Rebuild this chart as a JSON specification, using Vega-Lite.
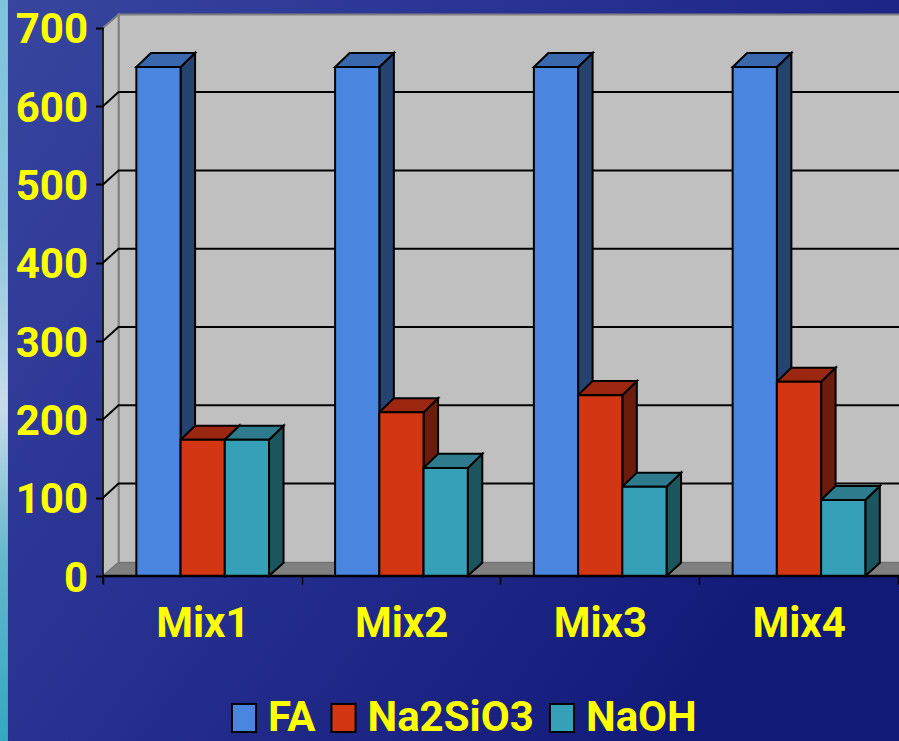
{
  "$schema": "https://vega.github.io/schema/vega-lite/v6.json",
  "width": 899,
  "height": 741,
  "padding": 0,
  "autosize": "none",
  "view": {"stroke": null},
  "config": {"font": "Roboto"},
  "data": {"values": [
    {"mix": "Mix1", "series": "FA", "value": 650},
    {"mix": "Mix1", "series": "Na2SiO3", "value": 174},
    {"mix": "Mix1", "series": "NaOH", "value": 174},
    {"mix": "Mix2", "series": "FA", "value": 650},
    {"mix": "Mix2", "series": "Na2SiO3", "value": 209},
    {"mix": "Mix2", "series": "NaOH", "value": 138},
    {"mix": "Mix3", "series": "FA", "value": 650},
    {"mix": "Mix3", "series": "Na2SiO3", "value": 231},
    {"mix": "Mix3", "series": "NaOH", "value": 114},
    {"mix": "Mix4", "series": "FA", "value": 650},
    {"mix": "Mix4", "series": "Na2SiO3", "value": 248},
    {"mix": "Mix4", "series": "NaOH", "value": 97}
  ]},
  "transform": [
    {"calculate": "indexof(['Mix1','Mix2','Mix3','Mix4'],datum.mix)+0.168+0.2225*indexof(['FA','Na2SiO3','NaOH'],datum.series)", "as": "left"},
    {"calculate": "datum.left+0.2225", "as": "right"},
    {"calculate": "[0,1]", "as": "k"},
    {"flatten": ["k"]},
    {"calculate": "datum.right+datum.k*0.073", "as": "sideX"},
    {"calculate": "datum.left+datum.k*0.073", "as": "topL"},
    {"calculate": "datum.right+datum.k*0.073", "as": "topR"},
    {"calculate": "datum.value+datum.k*18", "as": "upper"},
    {"calculate": "datum.k*17", "as": "lower"}
  ],
  "encoding": {},
  "resolve": {"scale": {"fill": "independent"}},
  "layer": [
    {
      "data": {"values": [{"part": "page"}]},
      "mark": {"type": "rect", "fill": {"gradient": "linear", "x1": 0, "y1": 0, "x2": 1, "y2": 0.6, "stops": [{"offset": 0, "color": "#38469f"}, {"offset": 0.5, "color": "#263090"}, {"offset": 1, "color": "#121a78"}]}},
      "encoding": {
        "x": {
          "datum": -0.518, "type": "quantitative",
          "scale": {"domain": [-0.518, 4.005], "nice": false, "zero": false},
          "axis": {
            "title": null, "orient": "bottom", "offset": -165, "domain": false, "grid": false, "zindex": 2,
            "values": [0, 0.5, 1, 1.5, 2, 2.5, 3, 3.5, 4],
            "labelExpr": "datum.value % 1 ? 'Mix' + ceil(datum.value) : ''",
            "tickColor": "#000000", "tickWidth": 1.5, "tickSize": 8,
            "tickOpacity": {"condition": {"test": "datum.value % 1 == 0", "value": 1}, "value": 0},
            "labelColor": "#ffff00", "labelFont": "Roboto", "labelFontWeight": "bold", "labelFontSize": 42,
            "labelPadding": 19, "labelOverlap": false, "labelBound": false, "labelFlush": false
          }
        },
        "x2": {"datum": 4.005},
        "y": {
          "datum": -210.7, "type": "quantitative",
          "scale": {"domain": [-210.7, 735.6], "nice": false, "zero": false},
          "axis": {
            "title": null, "orient": "left", "offset": -103.5, "domain": false, "grid": false, "zindex": 2,
            "values": [0, 100, 200, 300, 400, 500, 600, 700],
            "tickColor": "#000000", "tickWidth": 2, "tickSize": 8,
            "labelColor": "#ffff00", "labelFont": "Roboto", "labelFontWeight": "bold", "labelFontSize": 42,
            "labelPadding": 8, "labelOffset": 2, "labelOverlap": false, "labelBound": false
          }
        },
        "y2": {"datum": 735.6}
      }
    },
    {
      "data": {"values": [{"part": "edge strip"}]},
      "mark": {"type": "rect", "fill": {"gradient": "linear", "x1": 0, "y1": 0, "x2": 0, "y2": 1, "stops": [{"offset": 0, "color": "#7cc4dc"}, {"offset": 0.3, "color": "#8cc6dc"}, {"offset": 0.55, "color": "#c8dce8"}, {"offset": 0.75, "color": "#64b8cc"}, {"offset": 1, "color": "#34a8c0"}]}},
      "encoding": {"x": {"datum": -0.518}, "x2": {"datum": -0.478}, "y": {"datum": -210.7}, "y2": {"datum": 735.6}}
    },
    {
      "data": {"values": [{"part": "back wall"}]},
      "mark": {"type": "rect", "fill": "#c0c0c0", "stroke": "#808080", "strokeWidth": 2},
      "encoding": {"x": {"datum": 0.0785}, "x2": {"datum": 4.02}, "y": {"datum": 17}, "y2": {"datum": 717}}
    },
    {
      "data": {"values": [{"k": 0}, {"k": 1}]},
      "transform": [
        {"calculate": "datum.k*0.0785", "as": "wx"},
        {"calculate": "datum.k*17", "as": "wy"},
        {"calculate": "700+datum.k*17", "as": "wy2"}
      ],
      "mark": {"type": "area", "orient": "vertical", "fill": "#c0c0c0", "stroke": "#808080", "strokeWidth": 2},
      "encoding": {"x": {"field": "wx", "type": "quantitative"}, "y": {"field": "wy", "type": "quantitative"}, "y2": {"field": "wy2"}}
    },
    {
      "data": {"values": [{"k": 0}, {"k": 1}]},
      "transform": [
        {"calculate": "datum.k*17", "as": "fy"},
        {"calculate": "datum.k*0.0785", "as": "fx"},
        {"calculate": "4.02", "as": "fx2"}
      ],
      "mark": {"type": "area", "orient": "horizontal", "fill": "#808080", "stroke": "#6e6e6e", "strokeWidth": 1},
      "encoding": {"y": {"field": "fy", "type": "quantitative"}, "x": {"field": "fx", "type": "quantitative"}, "x2": {"field": "fx2"}}
    },
    {
      "data": {"values": [{"level": 100}, {"level": 200}, {"level": 300}, {"level": 400}, {"level": 500}, {"level": 600}]},
      "transform": [
        {"calculate": "[0,1,2]", "as": "k"},
        {"flatten": ["k"]},
        {"calculate": "datum.k==0 ? 0 : datum.k==1 ? 0.0785 : 4.02", "as": "gx"},
        {"calculate": "datum.level + (datum.k==0 ? 0 : 18)", "as": "gy"}
      ],
      "mark": {"type": "line", "color": "#000000", "strokeWidth": 2},
      "encoding": {"x": {"field": "gx", "type": "quantitative"}, "y": {"field": "gy", "type": "quantitative"}, "detail": {"field": "level"}}
    },
    {
      "mark": {"type": "area", "orient": "vertical", "stroke": "#000000", "strokeWidth": 2},
      "encoding": {
        "x": {"field": "sideX", "type": "quantitative"},
        "y": {"field": "upper", "type": "quantitative"},
        "y2": {"field": "lower"},
        "detail": {"field": "left"},
        "fill": {"field": "series", "scale": {"domain": ["FA", "Na2SiO3", "NaOH"], "range": ["#24446f", "#6b1c0c", "#1b555e"]}, "legend": null}
      }
    },
    {
      "mark": {"type": "area", "orient": "horizontal", "stroke": "#000000", "strokeWidth": 2},
      "encoding": {
        "y": {"field": "upper", "type": "quantitative"},
        "x": {"field": "topL", "type": "quantitative"},
        "x2": {"field": "topR"},
        "detail": {"field": "left"},
        "fill": {"field": "series", "scale": {"domain": ["FA", "Na2SiO3", "NaOH"], "range": ["#3a68ad", "#9c2710", "#2d7b8c"]}, "legend": null}
      }
    },
    {
      "transform": [{"filter": "datum.k == 0"}],
      "mark": {"type": "rect", "stroke": "#000000", "strokeWidth": 2},
      "encoding": {
        "x": {"field": "left", "type": "quantitative"},
        "x2": {"field": "right"},
        "y": {"field": "value", "type": "quantitative"},
        "y2": {"datum": 0},
        "fill": {
          "field": "series",
          "scale": {"domain": ["FA", "Na2SiO3", "NaOH"], "range": ["#4a86e0", "#d23613", "#35a0b7"]},
          "legend": {
            "title": null, "orient": "none", "legendX": 223, "legendY": 697, "columns": 3, "gridAlign": "each",
            "columnPadding": 6.5, "symbolType": "M-0.86,-1H0.86V1H-0.86Z", "symbolSize": 784,
            "symbolStrokeColor": "#000000", "symbolStrokeWidth": 2,
            "labelColor": "#ffff00", "labelFont": "Roboto", "labelFontWeight": "bold", "labelFontSize": 42,
            "labelOffset": 3, "labelLimit": 400
          }
        }
      }
    },
    {
      "data": {"values": [{"part": "baseline"}]},
      "mark": {"type": "rule", "color": "#000000", "strokeWidth": 2.5},
      "encoding": {"x": {"datum": 0}, "x2": {"datum": 4.02}, "y": {"datum": 0}}
    },
    {
      "data": {"values": [{"part": "value axis"}]},
      "mark": {"type": "rule", "color": "#000000", "strokeWidth": 1.5},
      "encoding": {"x": {"datum": 0}, "y": {"datum": -10}, "y2": {"datum": 700}}
    }
  ]
}
